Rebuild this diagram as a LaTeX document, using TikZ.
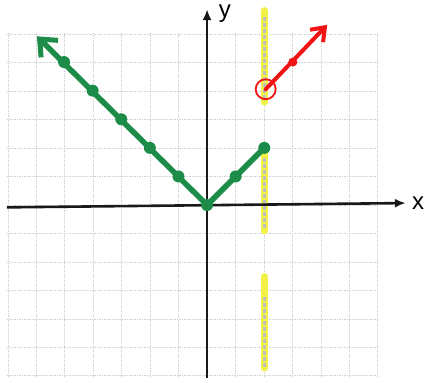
\documentclass[tikz,border=0pt]{standalone}
\usepackage{fontspec}
\setmainfont{Liberation Sans}
\usetikzlibrary{arrows.meta}
\definecolor{pgreen}{RGB}{28,140,72}
\definecolor{pred}{RGB}{240,20,20}
\definecolor{pyellow}{RGB}{242,242,70}
\tikzset{
  gridline/.style={gray!35, line width=0.6pt, dash pattern=on 1.5pt off 1pt},
  axisline/.style={black!90, line width=2.6pt, -{Latex[length=11pt,width=9pt]}},
  greenline/.style={pgreen, line width=5.5pt, line cap=round, line join=round},
  greendot/.style={circle, fill=pgreen, inner sep=0pt, minimum size=12pt},
  redline/.style={pred, line width=4pt, line cap=round},
  yellowseg/.style={pyellow, line width=7pt, line cap=round},
  grayseg/.style={gray!50, line width=2.5pt, dash pattern=on 4pt off 2pt},
  lbl/.style={font=\fontsize{24}{24}\selectfont, inner sep=0pt}
}
\begin{document}
\begin{tikzpicture}[x=28.6pt,y=28.6pt]
\useasboundingbox (-7.24,-6.19) rectangle (7.69,7.17);
% grid
\draw[gridline] (-7,-6) grid (6,6);
% yellow boundary at x=2
\draw[yellowseg] (2,3.6) -- (2,6.8);
\draw[yellowseg] (2,-0.9) -- (2,1.9);
\draw[yellowseg] (2,-2.5) -- (2,-5.7);
\draw[grayseg] (2,3.7) -- (2,6.6);
\draw[grayseg] (2,-0.8) -- (2,1.7);
\draw[grayseg] (2,-3.2) -- (2,-5.7);
% axes
\coordinate (xl) at (-7.0,-0.08);
\coordinate (xr) at (6.95,0.07);
\coordinate (yb) at (0,-6.05);
\coordinate (yt) at (0,6.85);
\draw[axisline] (xl) -- (xr);
\draw[axisline] (yb) -- (yt);
\node[lbl] (xlab) at (7.38,0.05) {x};
\node[lbl] (ylab) at (0.62,6.68) {y};
% green V
\coordinate (o) at (0,0);
\coordinate (g1) at (-1,1);
\coordinate (g2) at (-2,2);
\coordinate (g3) at (-3,3);
\coordinate (g4) at (-4,4);
\coordinate (g5) at (-5,5);
\coordinate (gtip) at (-5.95,5.9);
\coordinate (r1) at (1,1);
\coordinate (r2) at (2,2);
\draw[greenline, -{Straight Barb[length=14pt,width=24pt,line width=5pt]}] (o) -- (gtip);
\draw[greenline] (o) -- (r1) -- (r2);
\foreach \p in {o,g1,g2,g3,g4,g5,r1,r2}
  \node[greendot] at (\p) {};
% red ray
\coordinate (oc) at (2.05,4.05);
\coordinate (rm) at (3,5);
\coordinate (rtip) at (4.2,6.3);
\draw[redline, -{Straight Barb[length=12pt,width=18pt,line width=4pt]}] (oc) -- (rtip);
\node[circle, fill=pred, inner sep=0pt, minimum size=9pt] (rdot) at (rm) {};
\node[circle, draw=pred, line width=1.8pt, minimum size=20pt, inner sep=0pt] (ocirc) at (oc) {};
\end{tikzpicture}
\end{document}
